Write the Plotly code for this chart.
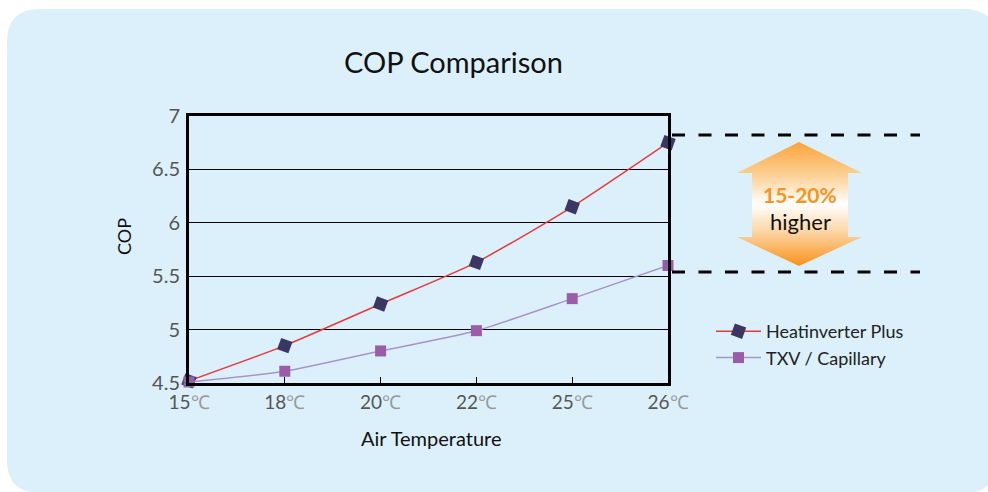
import plotly.graph_objects as go

# ---- data ----
categories = ["15", "18", "20", "22", "25", "26"]
heatinverter = [4.52, 4.85, 5.24, 5.63, 6.15, 6.75]
txv = [4.51, 4.61, 4.80, 4.99, 5.29, 5.60]
y_ticks = [4.5, 5, 5.5, 6, 6.5, 7]
y_tick_labels = ["4.5", "5", "5.5", "6", "6.5", "7"]
x_tick_labels = [c + "<span style='color:#9a9a9a'>℃</span>" for c in categories]

W, H = 988, 492
FONT = "Lato"

def px(x):
    return x / W

def py(y):
    return 1 - y / H

fig = go.Figure()

fig.add_trace(go.Scatter(
    x=categories, y=heatinverter, name="Heatinverter Plus",
    mode="lines+markers",
    line=dict(color="#e8393a", width=1.5, shape="spline", smoothing=0.6),
    marker=dict(symbol="square", size=12, color="#3b3762", angle=20),
    cliponaxis=False,
))
fig.add_trace(go.Scatter(
    x=categories, y=txv, name="TXV / Capillary",
    mode="lines+markers",
    line=dict(color="#a894c8", width=1.5, shape="spline", smoothing=0.6),
    marker=dict(symbol="square", size=11, color="#9a5ea8"),
    cliponaxis=False,
))

# decorative double arrow (pixel coordinates on an invisible overlay axis)
arrow_x = [799, 862, 848, 848, 862, 799, 737, 752, 752, 737, 799]
arrow_y = [142, 173, 173, 237, 237, 266, 237, 237, 173, 173, 142]
fig.add_trace(go.Scatter(
    x=arrow_x, y=arrow_y, xaxis="x2", yaxis="y2",
    mode="lines", line=dict(width=0), fill="toself",
    fillgradient=dict(
        type="vertical", start=142, stop=266,
        colorscale=[[0, "#fba43a"], [0.28, "#fdd29a"], [0.5, "#ffffff"],
                    [0.72, "#fdd6a6"], [1, "#f7921c"]],
    ),
    showlegend=False, hoverinfo="skip",
))

# background rounded rectangle
x0, y0, x1, y1, r = 7, 9, 997, 493, 33
path = (f"M {px(x0+r)},{py(y0)} L {px(x1-r)},{py(y0)} "
        f"Q {px(x1)},{py(y0)} {px(x1)},{py(y0+r)} L {px(x1)},{py(y1-r)} "
        f"Q {px(x1)},{py(y1)} {px(x1-r)},{py(y1)} L {px(x0+r)},{py(y1)} "
        f"Q {px(x0)},{py(y1)} {px(x0)},{py(y1-r)} L {px(x0)},{py(y0+r)} "
        f"Q {px(x0)},{py(y0)} {px(x0+r)},{py(y0)} Z")

shapes = [
    dict(type="path", path=path, xref="paper", yref="paper",
         fillcolor="#dcf0fb", line=dict(width=0), layer="below"),
    dict(type="line", xref="paper", yref="paper",
         x0=px(672), x1=px(920), y0=py(135), y1=py(135),
         line=dict(color="black", width=3, dash="13px,13.5px")),
    dict(type="line", xref="paper", yref="paper",
         x0=px(672), x1=px(920), y0=py(272), y1=py(272),
         line=dict(color="black", width=3, dash="13px,13.5px")),
]

annotations = [
    dict(text="COP Comparison", x=px(453), y=py(61), xref="paper", yref="paper",
         showarrow=False, font=dict(family=FONT, size=29, color="#111111"),
         xanchor="center", yanchor="middle"),
    dict(text="COP", x=px(124), y=py(236), xref="paper", yref="paper",
         showarrow=False, textangle=-90,
         font=dict(family=FONT, size=18, color="#111111"),
         xanchor="center", yanchor="middle"),
    dict(text="Air Temperature", x=px(431), y=py(438), xref="paper", yref="paper",
         showarrow=False, font=dict(family=FONT, size=20, color="#111111"),
         xanchor="center", yanchor="middle"),
    dict(text="<b>15-20%</b>", x=px(800), y=py(194), xref="paper", yref="paper",
         showarrow=False, font=dict(family=FONT, size=21, color="#f7941d"),
         xanchor="center", yanchor="middle"),
    dict(text="higher", x=px(800), y=py(222), xref="paper", yref="paper",
         showarrow=False, font=dict(family=FONT, size=22, color="#111111"),
         xanchor="center", yanchor="middle"),
]

fig.update_layout(
    width=W, height=H,
    margin=dict(l=0, r=0, t=0, b=0, pad=0, autoexpand=False),
    paper_bgcolor="white",
    plot_bgcolor="rgba(0,0,0,0)",
    font=dict(family=FONT),
    shapes=shapes,
    annotations=annotations,
    xaxis=dict(
        domain=[px(189), px(668)], type="category", range=[0, 5],
        tickvals=categories, ticktext=x_tick_labels,
        showline=True, linewidth=3, linecolor="black", mirror=True,
        ticks="inside", ticklen=6, tickwidth=1, tickcolor="black",
        showgrid=False, zeroline=False, automargin=False,
        tickfont=dict(family=FONT, size=19, color="#555555"),
        anchor="y",
    ),
    yaxis=dict(
        domain=[py(383), py(116)], range=[4.5, 7],
        tickvals=y_ticks, ticktext=y_tick_labels,
        showline=True, linewidth=3, linecolor="black", mirror=True,
        showgrid=True, gridcolor="black", gridwidth=1.2,
        zeroline=False, ticks="", ticklabelstandoff=2, automargin=False,
        tickfont=dict(family=FONT, size=20, color="#555555"),
        anchor="x",
    ),
    xaxis2=dict(domain=[0, 1], range=[0, W], visible=False, anchor="y2",
                fixedrange=True),
    yaxis2=dict(domain=[0, 1], range=[H, 0], visible=False, anchor="x2",
                fixedrange=True),
    legend=dict(
        x=px(711), y=py(313), xanchor="left", yanchor="top",
        bgcolor="rgba(0,0,0,0)",
        font=dict(family=FONT, size=18, color="#222222"),
        tracegroupgap=0, itemwidth=45,
    ),
    showlegend=True,
)

fig.write_html("out.html", post_script="document.body.style.margin='0';",
               config={"displayModeBar": False})
